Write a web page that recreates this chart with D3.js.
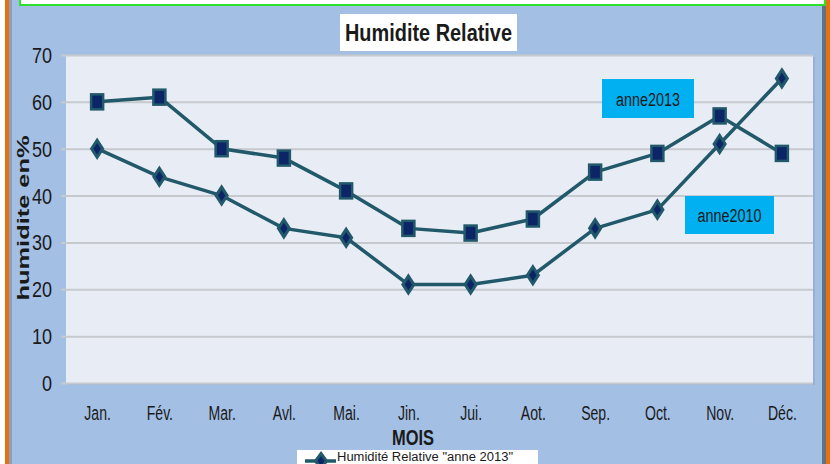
<!DOCTYPE html>
<html>
<head>
<meta charset="utf-8">
<script src="https://cdn.jsdelivr.net/npm/d3@7"></script>
<style>
  html, body { margin: 0; padding: 0; background: #ffffff; }
  svg { display: block; }
  text { font-family: "Liberation Sans", Arial, sans-serif; fill: #1a1a1a; }
</style>
</head>
<body>
<svg id="chart" width="830" height="464"></svg>
<script>
// Monthly relative humidity (%)
const months = ["Jan.", "Fév.", "Mar.", "Avl.", "Mai.", "Jin.", "Jui.", "Aot.", "Sep.", "Oct.", "Nov.", "Déc."];
const humidity2013 = [60, 61, 50, 48, 41, 33, 32, 35, 45, 49, 57, 49];
const humidity2010 = [50, 44, 40, 33, 31, 21, 21, 23, 33, 37, 51, 65];
const yTicks = [0, 10, 20, 30, 40, 50, 60, 70];

const W = 830, H = 464;
const plot = { left: 66, right: 813, top: 55, bottom: 383 };
const lineColor = "#22596a";
const markerFill = "#0c2566";

const svg = d3.select("#chart");

// Frame: background panel, side strips and top box
svg.append("rect").attr("x", 0).attr("y", 0).attr("width", W).attr("height", H).attr("fill", "#ffffff");
svg.append("rect").attr("x", 9).attr("y", 0).attr("width", 817).attr("height", H).attr("fill", "#a3bfe4");
svg.append("rect").attr("x", 9).attr("y", 0).attr("width", 3).attr("height", H).attr("fill", "#8aa0bd");
svg.append("rect").attr("x", 822).attr("y", 0).attr("width", 4).attr("height", H).attr("fill", "#5d7189");
svg.append("rect").attr("x", 5).attr("y", 0).attr("width", 4).attr("height", H).attr("fill", "#e8710f");
svg.append("rect").attr("x", 826).attr("y", 0).attr("width", 4).attr("height", H).attr("fill", "#e8710f");
svg.append("rect").attr("x", 20).attr("y", -4).attr("width", 805).attr("height", 9)
  .attr("fill", "#ffffff").attr("stroke", "#2ee02e").attr("stroke-width", 2);

// Plot area with a soft shadow
svg.append("rect").attr("x", plot.left + 2).attr("y", plot.top + 2)
  .attr("width", plot.right - plot.left).attr("height", plot.bottom - plot.top)
  .attr("fill", "#8fa9cc").attr("opacity", 0.6);
svg.append("rect").attr("x", plot.left).attr("y", plot.top)
  .attr("width", plot.right - plot.left).attr("height", plot.bottom - plot.top)
  .attr("fill", "#e8edf5");

const x = d3.scalePoint().domain(months).range([plot.left, plot.right]).padding(0.5);
const y = d3.scaleLinear().domain([0, 70]).range([plot.bottom, plot.top]);

// Y axis with gridlines extending across the plot (labels condensed horizontally)
const yScaleX = 0.82;
const yAxis = svg.append("g")
  .attr("transform", `translate(${plot.left},0)`)
  .call(d3.axisLeft(y).tickValues(yTicks).tickSize(-(plot.right - plot.left)).tickFormat(d3.format("d")));
yAxis.select(".domain").remove();
yAxis.selectAll(".tick line").attr("x1", -5).attr("stroke", "#c6c9ce").attr("stroke-width", 2);
yAxis.selectAll(".tick text").attr("font-size", 22).attr("fill", "#1a1a1a")
  .attr("font-family", "Liberation Sans, Arial, sans-serif")
  .attr("x", -14 / yScaleX).attr("dy", "0.34em")
  .attr("transform", `scale(${yScaleX},1)`);

// X axis labels (condensed horizontally)
const xAxis = svg.append("g")
  .attr("transform", `translate(0,${plot.bottom})`)
  .call(d3.axisBottom(x).tickSize(0).tickPadding(22));
xAxis.select(".domain").remove();
xAxis.selectAll(".tick text").attr("font-size", 21).attr("fill", "#1a1a1a")
  .attr("font-family", "Liberation Sans, Arial, sans-serif")
  .attr("transform", "scale(0.67,1)");

// Lines
const line = d3.line().x((d, i) => x(months[i])).y(d => y(d));
[humidity2010, humidity2013].forEach(series => {
  svg.append("path").datum(series).attr("d", line)
    .attr("fill", "none").attr("stroke", lineColor).attr("stroke-width", 3.5)
    .attr("stroke-linejoin", "round");
});

// Markers: squares for 2013, diamonds for 2010
svg.append("g").selectAll("rect").data(humidity2013).join("rect")
  .attr("x", (d, i) => x(months[i]) - 6).attr("y", d => y(d) - 7.5)
  .attr("width", 12).attr("height", 15)
  .attr("fill", markerFill).attr("stroke", lineColor).attr("stroke-width", 2.5);

const diamond = (cx, cy, w, h) => `M${cx},${cy - h / 2}L${cx + w / 2},${cy}L${cx},${cy + h / 2}L${cx - w / 2},${cy}Z`;
svg.append("g").selectAll("path").data(humidity2010).join("path")
  .attr("d", (d, i) => diamond(x(months[i]), y(d), 11, 17))
  .attr("fill", markerFill).attr("stroke", lineColor).attr("stroke-width", 3);

// Title
svg.append("rect").attr("x", 340).attr("y", 14).attr("width", 177).attr("height", 37).attr("fill", "#ffffff");
svg.append("text").attr("x", 428.5).attr("y", 41).attr("text-anchor", "middle")
  .attr("font-size", 24).attr("font-weight", "bold").attr("fill", "#000000")
  .attr("textLength", 167).attr("lengthAdjust", "spacingAndGlyphs")
  .text("Humidite Relative");

// Axis titles
svg.append("text")
  .attr("transform", "translate(29,218) rotate(-90)")
  .attr("text-anchor", "middle").attr("font-size", 17).attr("font-weight", "bold")
  .attr("fill", "#000000")
  .attr("textLength", 165).attr("lengthAdjust", "spacingAndGlyphs")
  .text("humidite en%");
svg.append("text").attr("x", 413).attr("y", 445).attr("text-anchor", "middle")
  .attr("font-size", 22).attr("font-weight", "bold").attr("fill", "#000000")
  .attr("textLength", 42).attr("lengthAdjust", "spacingAndGlyphs")
  .text("MOIS");

// Series annotations
const notes = [
  { label: "anne2013", x: 602, y: 79, w: 92, h: 39 },
  { label: "anne2010", x: 685, y: 196, w: 89, h: 38 }
];
notes.forEach(n => {
  svg.append("rect").attr("x", n.x).attr("y", n.y).attr("width", n.w).attr("height", n.h).attr("fill", "#00b0f0");
  svg.append("text").attr("x", n.x + n.w / 2).attr("y", n.y + n.h / 2 + 7).attr("text-anchor", "middle")
    .attr("font-size", 18).attr("fill", "#10202a")
    .attr("textLength", 64).attr("lengthAdjust", "spacingAndGlyphs")
    .text(n.label);
});

// Legend
svg.append("rect").attr("x", 297).attr("y", 450).attr("width", 241).attr("height", 30).attr("fill", "#ffffff");
svg.append("line").attr("x1", 305).attr("x2", 336).attr("y1", 461).attr("y2", 461)
  .attr("stroke", lineColor).attr("stroke-width", 3.5);
svg.append("path").attr("d", diamond(321, 461, 11, 15))
  .attr("fill", markerFill).attr("stroke", lineColor).attr("stroke-width", 3);
svg.append("text").attr("x", 337).attr("y", 461).attr("font-size", 12).attr("fill", "#1a1a1a")
  .attr("textLength", 176).attr("lengthAdjust", "spacingAndGlyphs")
  .text("Humidité Relative \"anne 2013\"");
</script>
</body>
</html>
